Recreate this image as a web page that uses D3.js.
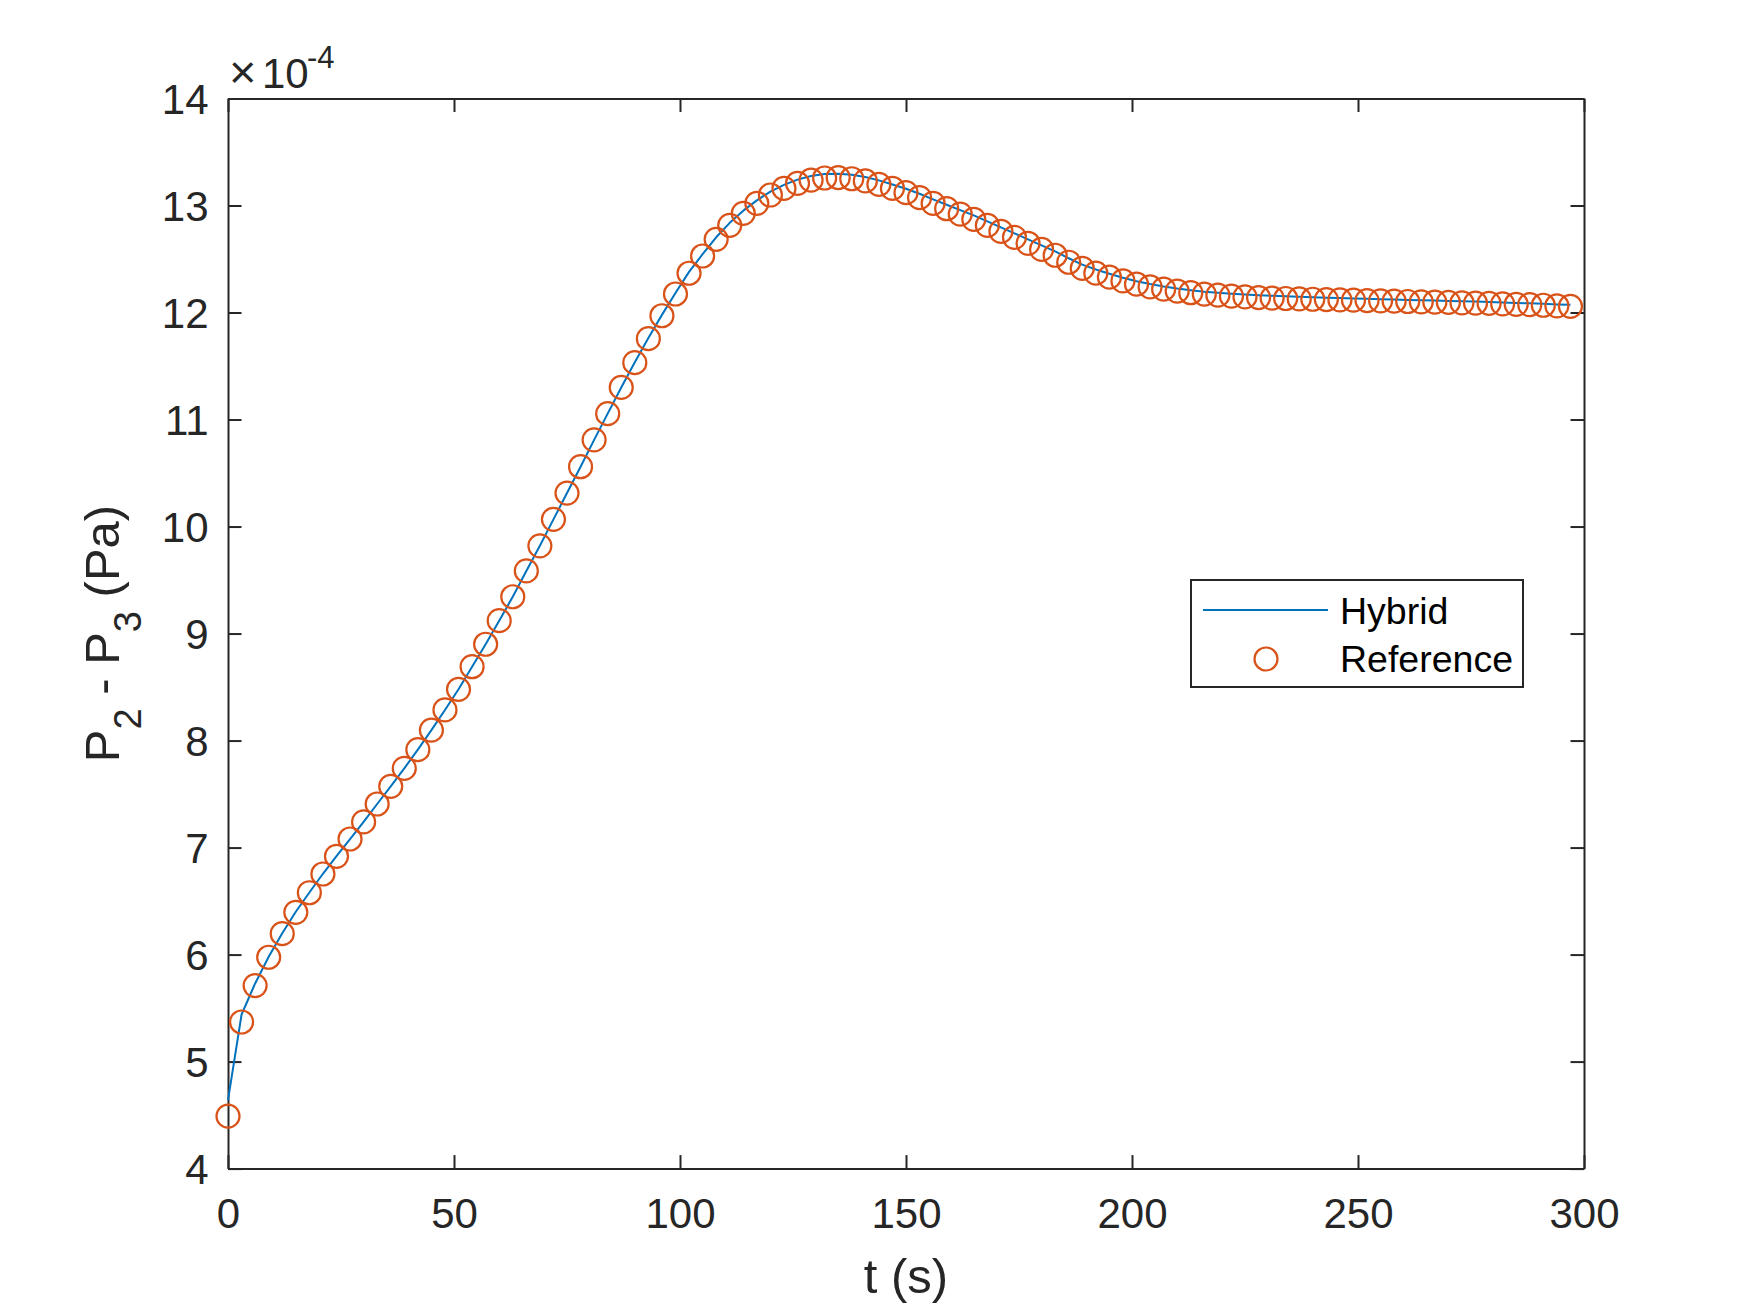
<!DOCTYPE html>
<html>
<head>
<meta charset="utf-8">
<script src="https://cdn.jsdelivr.net/npm/d3@7"></script>
<style>
  body { margin: 0; background: #ffffff; }
  svg text { font-family: "Liberation Sans", Arial, Helvetica, sans-serif; fill: #262626; }
</style>
</head>
<body>
<svg id="chart" width="1750" height="1313"></svg>
<script>
// ---------------- data ----------------
const timeSec = [
  0,3,6,9,12,15,18,21,24,27,
  30,33,36,39,42,45,48,51,54,57,
  60,63,66,69,72,75,78,81,84,87,
  90,93,96,99,102,105,108,111,114,117,
  120,123,126,129,132,135,138,141,144,147,
  150,153,156,159,162,165,168,171,174,177,
  180,183,186,189,192,195,198,201,204,207,
  210,213,216,219,222,225,228,231,234,237,
  240,243,246,249,252,255,258,261,264,267,
  270,273,276,279,282,285,288,291,294,297
];
// values in units of 1e-4 Pa
const referenceVals = [
  4.49,5.37,5.71,5.975,6.195,6.395,6.578,6.753,6.918,7.08,
  7.24,7.407,7.572,7.74,7.915,8.097,8.286,8.479,8.69,8.90,
  9.12,9.344,9.585,9.82,10.067,10.313,10.559,10.81,11.055,11.30,
  11.531,11.756,11.97,12.173,12.367,12.528,12.684,12.815,12.927,13.02,
  13.098,13.16,13.207,13.238,13.257,13.26,13.25,13.23,13.198,13.16,
  13.12,13.073,13.02,12.97,12.92,12.871,12.815,12.759,12.703,12.647,
  12.59,12.535,12.47,12.412,12.368,12.33,12.295,12.265,12.24,12.218,
  12.2,12.185,12.172,12.162,12.153,12.146,12.14,12.135,12.131,12.127,
  12.124,12.121,12.118,12.115,12.112,12.109,12.106,12.103,12.1,12.097,
  12.094,12.091,12.088,12.085,12.081,12.077,12.073,12.068,12.063,12.058
];
const hybridVals = [
  4.64,5.44,5.73,5.98,6.2,6.4,6.58,6.755,6.92,7.08,
  7.24,7.407,7.572,7.74,7.915,8.097,8.286,8.479,8.69,8.90,
  9.12,9.344,9.585,9.82,10.067,10.313,10.559,10.81,11.055,11.30,
  11.535,11.762,11.978,12.183,12.38,12.545,12.703,12.838,12.952,13.048,
  13.13,13.193,13.242,13.275,13.294,13.297,13.287,13.267,13.235,13.197,
  13.157,13.11,13.057,13.007,12.957,12.908,12.852,12.796,12.74,12.684,
  12.627,12.572,12.507,12.448,12.402,12.362,12.325,12.293,12.267,12.244,
  12.225,12.209,12.195,12.184,12.175,12.168,12.162,12.156,12.151,12.147,
  12.143,12.139,12.135,12.131,12.128,12.124,12.121,12.118,12.115,12.112,
  12.108,12.105,12.102,12.098,12.094,12.09,12.086,12.081,12.076,12.072
];
const xTickVals = [0,50,100,150,200,250,300];
const yTickVals = [4,5,6,7,8,9,10,11,12,13,14];
const seriesNames = ["Hybrid","Reference"];

// ---------------- layout ----------------
const W = 1750, H = 1313;
const L = 228, R = 1584, T = 98.5, B = 1168.6;
const axisColor = "#262626";
const blue = "#0072BD", orange = "#D95319";
const tickLen = 13.5;

const svg = d3.select("#chart");
svg.append("rect").attr("width", W).attr("height", H).attr("fill", "#ffffff");

const x = d3.scaleLinear().domain([0, 300]).range([L, R]);
const y = d3.scaleLinear().domain([4, 14]).range([B, T]);

function styleAxis(g) {
  g.select(".domain").attr("stroke", axisColor).attr("stroke-width", 2);
  g.selectAll(".tick line").attr("stroke", axisColor).attr("stroke-width", 2);
  g.attr("font-family", null).attr("font-size", null);
  g.selectAll(".tick text")
    .attr("fill", axisColor)
    .style("font-family", '"Liberation Sans", Arial, Helvetica, sans-serif')
    .style("font-size", "42px");
}

// bottom axis
svg.append("g")
  .attr("transform", `translate(0,${B})`)
  .call(d3.axisBottom(x).tickValues(xTickVals).tickSizeInner(-tickLen).tickSizeOuter(0).tickPadding(29.6).tickFormat(d3.format("d")))
  .call(styleAxis);
// top axis (ticks only)
svg.append("g")
  .attr("transform", `translate(0,${T})`)
  .call(d3.axisTop(x).tickValues(xTickVals).tickSizeInner(-tickLen).tickSizeOuter(0).tickFormat(""))
  .call(styleAxis);
// left axis
const gLeft = svg.append("g")
  .attr("transform", `translate(${L},0)`)
  .call(d3.axisLeft(y).tickValues(yTickVals).tickSizeInner(-tickLen).tickSizeOuter(0).tickPadding(19.5).tickFormat(d3.format("d")))
  .call(styleAxis);
gLeft.selectAll(".tick text").attr("dy", "0.36em");
// right axis (ticks only)
svg.append("g")
  .attr("transform", `translate(${R},0)`)
  .call(d3.axisRight(y).tickValues(yTickVals).tickSizeInner(-tickLen).tickSizeOuter(0).tickFormat(""))
  .call(styleAxis);

// exponent label
const expo = svg.append("text").attr("y", 88).style("font-size", "42px");
expo.append("tspan").attr("x", 229).style("font-size", "47px").style("font-weight", "300").text("\u00D7");
expo.append("tspan").attr("x", 262).text("10");
expo.append("tspan").attr("x", 307).attr("dy", -20).style("font-size", "31px").text("-4");

// ---------------- series ----------------
const hybridData = timeSec.map((t, i) => ({ t, v: hybridVals[i] }));
const refData = timeSec.map((t, i) => ({ t, v: referenceVals[i] }));

svg.append("path")
  .datum(hybridData)
  .attr("fill", "none")
  .attr("stroke", blue)
  .attr("stroke-width", 2)
  .attr("stroke-linejoin", "round")
  .attr("d", d3.line().x(d => x(d.t)).y(d => y(d.v)));

svg.append("g").selectAll("circle")
  .data(refData)
  .join("circle")
  .attr("cx", d => x(d.t))
  .attr("cy", d => y(d.v))
  .attr("r", 11.5)
  .attr("fill", "none")
  .attr("stroke", orange)
  .attr("stroke-width", 2.2);

// ---------------- axis labels ----------------
svg.append("text")
  .attr("x", (L + R) / 2)
  .attr("y", 1293)
  .attr("text-anchor", "middle")
  .style("font-size", "49px")
  .text("t (s)");

const yl = svg.append("text")
  .attr("transform", `translate(119,${(T + B) / 2}) rotate(-90)`)
  .attr("text-anchor", "middle")
  .style("font-size", "49px");
yl.append("tspan").text("P");
yl.append("tspan").attr("dy", 22).style("font-size", "38px").text("2");
yl.append("tspan").attr("dy", -22).text(" - P");
yl.append("tspan").attr("dy", 22).style("font-size", "38px").text("3");
yl.append("tspan").attr("dy", -22).text(" (Pa)");

// ---------------- legend ----------------
const leg = svg.append("g");
leg.append("rect")
  .attr("x", 1191).attr("y", 580).attr("width", 332).attr("height", 107)
  .attr("fill", "#ffffff").attr("stroke", axisColor).attr("stroke-width", 2);
leg.append("line")
  .attr("x1", 1203).attr("x2", 1328).attr("y1", 610).attr("y2", 610)
  .attr("stroke", blue).attr("stroke-width", 2);
leg.append("circle")
  .attr("cx", 1266).attr("cy", 659).attr("r", 11.5)
  .attr("fill", "none").attr("stroke", orange).attr("stroke-width", 2.2);
leg.selectAll("text.lbl")
  .data(seriesNames)
  .join("text")
  .attr("class", "lbl")
  .attr("x", 1340)
  .attr("y", (d, i) => 624 + i * 48)
  .style("font-size", "37.5px")
  .style("fill", "#000000")
  .text(d => d);
</script>
</body>
</html>
